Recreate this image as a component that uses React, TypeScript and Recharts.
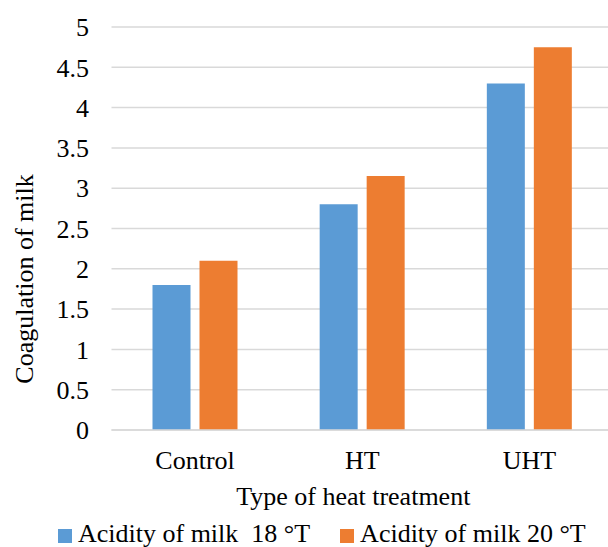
import React from 'react';
import { BarChart, Bar, XAxis, YAxis, CartesianGrid, Legend } from 'recharts';

const categories = ['Control', 'HT', 'UHT'];
const acidity18 = [1.8, 2.8, 4.3];
const acidity20 = [2.1, 3.15, 4.75];
const yTicks = [0, 0.5, 1, 1.5, 2, 2.5, 3, 3.5, 4, 4.5, 5];

const SERIES = [
  { key: 'a18', name: 'Acidity of milk  18 °T', color: '#5B9BD5' },
  { key: 'a20', name: 'Acidity of milk 20 °T', color: '#ED7D31' },
];

const FONT = '"Liberation Serif", "Times New Roman", serif';

const renderLegend = () => (
  <div style={{ height: 37, display: 'flex', alignItems: 'flex-start', paddingTop: 11, paddingLeft: 58, boxSizing: 'border-box' }}>
    {SERIES.map((s, i) => (
      <div key={s.key} style={{ display: 'flex', alignItems: 'flex-start', marginLeft: i === 0 ? 0 : 30 }}>
        <div style={{ width: 14, height: 14, marginTop: 8, marginRight: 6, backgroundColor: s.color }} />
        <span style={{ fontFamily: FONT, fontSize: 26, lineHeight: '26px', whiteSpace: 'pre', color: '#000' }}>{s.name}</span>
      </div>
    ))}
  </div>
);

export default function App() {
  const data = categories.map((name, i) => ({ name, a18: acidity18[i], a20: acidity20[i] }));

  return (
    <div style={{ position: 'absolute', left: 0, top: 0, width: 608, height: 547, overflow: 'hidden', background: '#fff' }}>
      <BarChart
        width={613}
        height={547}
        data={data}
        margin={{ top: 27, right: 0, bottom: 0, left: 0 }}
        barSize={38}
        barGap={9}
      >
        <CartesianGrid vertical={false} stroke="#D9D9D9" strokeWidth={1.5} />
        <XAxis
          dataKey="name"
          height={80}
          tickLine={false}
          tickSize={0}
          tickMargin={21}
          axisLine={{ stroke: '#D9D9D9', strokeWidth: 1.5 }}
          tick={{ fill: '#000', fontSize: 26, fontFamily: FONT }}
          label={{
            content: ({ viewBox }: any) => (
              <text
                x={viewBox.x + viewBox.width / 2 - 9}
                y={505}
                textAnchor="middle"
                fill="#000"
                fontSize={26}
                fontFamily={FONT}
              >
                Type of heat treatment
              </text>
            ),
          }}
        />
        <YAxis
          width={111.5}
          domain={[0, 5]}
          ticks={yTicks}
          interval={0}
          axisLine={false}
          tickLine={false}
          tickSize={0}
          tickMargin={22.5}
          tick={{ fill: '#000', fontSize: 26, fontFamily: FONT }}
          label={{
            content: () => (
              <text
                x={33}
                y={279}
                transform="rotate(-90, 33, 279)"
                textAnchor="middle"
                fill="#000"
                fontSize={26}
                fontFamily={FONT}
              >
                Coagulation of milk
              </text>
            ),
          }}
        />
        <Legend verticalAlign="bottom" height={37} content={renderLegend} />
        {SERIES.map((s) => (
          <Bar key={s.key} dataKey={s.key} name={s.name} fill={s.color} isAnimationActive={false} />
        ))}
      </BarChart>
    </div>
  );
}
